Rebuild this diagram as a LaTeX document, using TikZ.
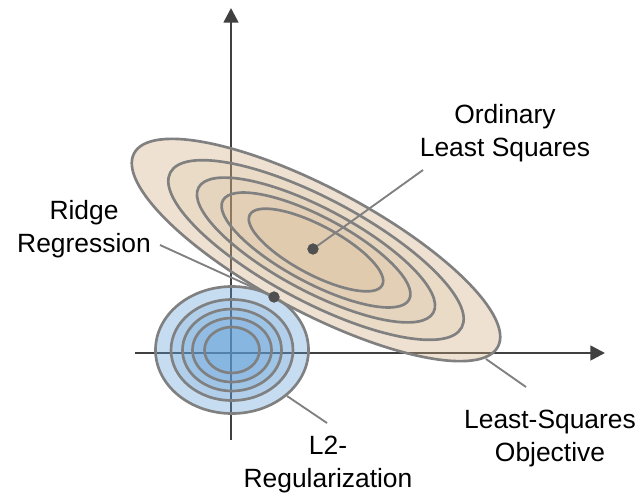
\documentclass[tikz,border=0pt]{standalone}
\usepackage{fontspec}
\setmainfont{Liberation Sans}
\usetikzlibrary{arrows.meta}

\definecolor{axisgray}{RGB}{64,64,64}
\definecolor{ringgray}{RGB}{128,128,128}
\definecolor{dotgray}{RGB}{80,80,80}
\definecolor{tanfill}{RGB}{205,170,125}
\definecolor{bluefill}{RGB}{91,155,213}
\newcommand{\lblfont}{\fontsize{19.8}{24.75}\selectfont}

\begin{document}
\begin{tikzpicture}[x=0.75pt, y=-0.75pt,
	axis/.style={line width=2pt, color=axisgray, -{Triangle[length=11pt,width=11pt]}},
	ring/.style={line width=2pt, draw=ringgray},
	leader/.style={line width=1.4pt, color=ringgray},
	dot/.style={circle, fill=dotgray, inner sep=0pt, minimum size=8.3pt},
	lbl/.style={font=\lblfont, align=center, inner sep=0pt}]
	\useasboundingbox (0,0) rectangle (639,494);

	\coordinate (xstart) at (135,353);
	\coordinate (xend) at (605,353);
	\coordinate (ystart) at (231,440);
	\coordinate (yend) at (231,8);
	\draw[axis] (xstart) -- (xend);
	\draw[axis] (ystart) -- (yend);

	\coordinate (l2c) at (232,350);
	\foreach \rx/\ry/\op in {76.5/63.5/0.35, 61/50.5/0.2, 49.5/41/0.2, 39.5/32/0.2, 27.5/23/0.2}
		\draw[ring, fill=bluefill, fill opacity=\op] (l2c) ellipse [x radius=\rx, y radius=\ry];

	\coordinate (olsc) at (316,250);
	\foreach \rx/\ry/\op in {206/62/0.35, 165/51.5/0.12, 133/41.5/0.12, 105.5/33/0.12, 75/24.5/0.12}
		\draw[ring, fill=tanfill, fill opacity=\op, rotate around={-28:(olsc)}] (olsc) ellipse [x radius=\rx, y radius=\ry];

	\node[dot] (ols) at (313,249) {};
	\node[dot] (ridge) at (274,297) {};

	\coordinate (olsend) at (423,170);
	\coordinate (ridgeend) at (160,245);
	\coordinate (lsqa) at (486,359);
	\coordinate (lsqb) at (526,387);
	\coordinate (l2a) at (287,396);
	\coordinate (l2b) at (327,423);
	\draw[leader] (olsend) -- (ols.center);
	\draw[leader] (ridgeend) -- (ridge.center);
	\draw[leader] (lsqa) -- (lsqb);
	\draw[leader] (l2a) -- (l2b);
	\node[dot] at (ols) {};
	\node[dot] at (ridge) {};

	\node[lbl] (olstext) at (505,133) {Ordinary\\Least Squares};
	\node[lbl] (ridgetext) at (84,229) {Ridge\\Regression};
	\node[lbl] (lsqtext) at (550,439) {Least-Squares\\Objective};
	\node[lbl] (l2text) at (328,465) {L2-\\Regularization};
\end{tikzpicture}
\end{document}
